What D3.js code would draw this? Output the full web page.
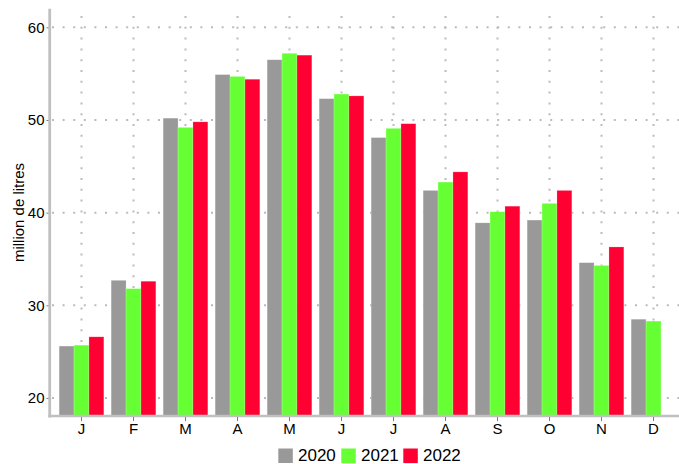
<!DOCTYPE html>
<html>
<head>
<meta charset="utf-8">
<script src="https://cdn.jsdelivr.net/npm/d3@7/dist/d3.min.js"></script>
<style>
html,body{margin:0;padding:0;background:#fff;}
svg{display:block;font-family:"Liberation Sans",Arial,sans-serif;}
</style>
</head>
<body>
<svg id="chart" width="679" height="464"></svg>
<script>
const months = ["J","F","M","A","M","J","J","A","S","O","N","D"];
const seriesNames = ["2020","2021","2022"];
const colors = ["#999999","#66ff33","#ff0033"];
const values2020 = [25.6,32.7,50.2,54.9,56.5,52.3,48.1,42.4,38.9,39.2,34.6,28.5];
const values2021 = [25.7,31.8,49.2,54.7,57.2,52.8,49.1,43.3,40.1,41.0,34.3,28.3];
const values2022 = [26.6,32.6,49.8,54.4,57.0,52.6,49.6,44.4,40.7,42.4,36.3,null];
const yTicks = [20,30,40,50,60];

const allSeries = [values2020, values2021, values2022];
const svg = d3.select("#chart");

const yDomain = [18, 62];
const y = d3.scaleLinear().domain(yDomain).range([416.5, 8.8]);
const idx = d3.range(months.length);
const x = d3.scaleBand().domain(idx).range([55.5, 679.5]).paddingInner(0.14).paddingOuter(0.07);
const xs = d3.scaleBand().domain(seriesNames).range([0, x.bandwidth()]);
const gridColor = "#bbbbbb";

// grid lines
svg.append("g").selectAll("line").data(yTicks).join("line")
  .attr("x1", 52).attr("x2", 679)
  .attr("y1", d => y(d)).attr("y2", d => y(d))
  .attr("stroke", gridColor).attr("stroke-width", 2)
  .attr("stroke-dasharray", "2,8.6");
svg.append("g").selectAll("line").data(idx).join("line")
  .attr("x1", d => x(d) + x.bandwidth()/2).attr("x2", d => x(d) + x.bandwidth()/2)
  .attr("y1", 16).attr("y2", 416)
  .attr("stroke", gridColor).attr("stroke-width", 2)
  .attr("stroke-dasharray", "2,8.8");

// bars
const groups = svg.append("g").selectAll("g").data(idx).join("g")
  .attr("transform", d => `translate(${x(d)},0)`);
groups.selectAll("rect")
  .data(i => seriesNames.map((s, k) => ({s, k, v: allSeries[k][i]})).filter(d => d.v != null))
  .join("rect")
  .attr("x", d => xs(d.s))
  .attr("width", xs.bandwidth())
  .attr("y", d => y(d.v))
  .attr("height", d => y(yDomain[0]) - y(d.v))
  .attr("fill", d => colors[d.k])
  .attr("stroke", "#ffffff").attr("stroke-opacity", 0.35).attr("stroke-width", 0.6);

// y axis
const yAxis = svg.append("g").attr("transform", "translate(49.5,0)")
  .call(d3.axisLeft(y).tickValues(yTicks).tickSize(3).tickPadding(2).tickFormat(d3.format("d")));
yAxis.select(".domain").remove();
yAxis.selectAll(".tick line").attr("stroke", "#777");
yAxis.selectAll("text").attr("font-size", 15).attr("fill", "#000").attr("font-family", "Liberation Sans, Arial, sans-serif");
svg.append("line").attr("x1", 49.7).attr("x2", 49.7).attr("y1", 8.8).attr("y2", 417.5)
  .attr("stroke", "#c0c0c0").attr("stroke-width", 2.8);

// x axis
const xAxis = svg.append("g").attr("transform", "translate(0,417)")
  .call(d3.axisBottom(x).tickSize(4).tickPadding(2).tickFormat(i => months[i]));
xAxis.select(".domain").remove();
xAxis.selectAll(".tick line").attr("stroke", "#777");
xAxis.selectAll("text").attr("font-size", 15).attr("fill", "#000").attr("font-family", "Liberation Sans, Arial, sans-serif");
svg.append("line").attr("x1", 48.3).attr("x2", 679).attr("y1", 416).attr("y2", 416)
  .attr("stroke", "#c0c0c0").attr("stroke-width", 2.6);

// y label
svg.append("text").attr("transform", "translate(23.5,212.5) rotate(-90)")
  .attr("text-anchor", "middle").attr("font-size", 15).attr("fill", "#000")
  .text("million de litres");

// legend
const legendX = [278.3, 341.3, 403.3];
const lg = svg.append("g").selectAll("g").data(seriesNames).join("g")
  .attr("transform", (d, i) => `translate(${legendX[i]},448.5)`);
lg.append("rect").attr("width", 14.5).attr("height", 14.5).attr("fill", (d, i) => colors[i]);
lg.append("text").attr("x", 19.7).attr("y", 12.5).attr("font-size", 17).attr("fill", "#000").text(d => d);
</script>
</body>
</html>
